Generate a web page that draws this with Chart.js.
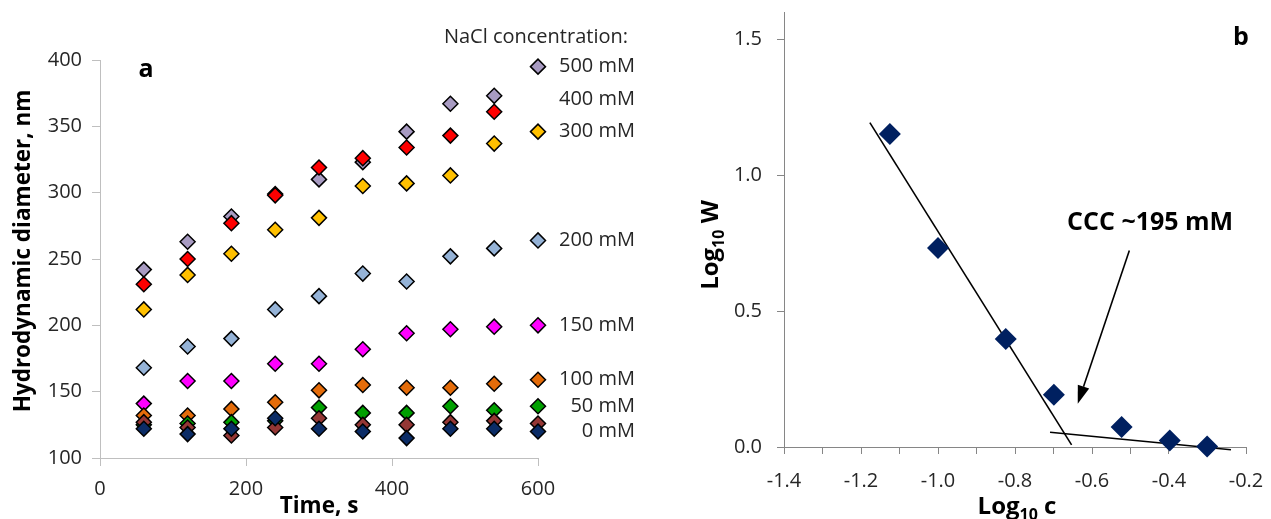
<!DOCTYPE html>
<html>
<head>
    <meta charset="UTF-8">
    <title>NaCl aggregation</title>
    <script src="https://cdn.jsdelivr.net/npm/chart.js"></script>
    <style>
        body {
            margin: 0;
            background: #fff;
        }

        #wrap {
            position: relative;
            width: 1271px;
            height: 519px;
        }

        .panel {
            position: absolute;
            top: 0;
            height: 519px;
        }
    </style>
</head>
<body>
<div id="wrap">
    <div class="panel" style="left: 0; width: 660px;"><canvas id="chart-a"></canvas></div>
    <div class="panel" style="left: 660px; width: 611px;"><canvas id="chart-b"></canvas></div>
</div>

<script>
    // panel a: hydrodynamic diameter (nm) vs time (s)
    const timeA = [60, 120, 180, 240, 300, 360, 420, 480, 540, 600];
    const nacl500 = [242, 263, 282, 299, 310, 323, 346, 367, 373, 395];
    const nacl400 = [231, 250, 277, 298, 319, 326, 334, 343, 361, null];
    const nacl300 = [212, 238, 254, 272, 281, 305, 307, 313, 337, 346];
    const nacl200 = [168, 184, 190, 212, 222, 239, 233, 252, 258, 264];
    const nacl150 = [141, 158, 158, 171, 171, 182, 194, 197, 199, 200];
    const nacl100 = [132, 132, 137, 142, 151, 155, 153, 153, 156, 159];
    const nacl50 = [125, 126, 127, 128, 138, 134, 134, 139, 136, 139];
    const naclUnlabelled = [127, 123, 117, 123, 130, 125, 125, 127, 128, 126];
    const nacl0 = [122, 118, 122, 130, 122, 120, 115, 122, 122, 120];
    const ticksTime = [0, 200, 400, 600];
    const ticksDiameter = [100, 150, 200, 250, 300, 350, 400];

    // panel b: log10 W vs log10 c
    const logC = [-1.125, -1.0, -0.824, -0.699, -0.523, -0.398, -0.301];
    const logW = [1.151, 0.732, 0.397, 0.192, 0.074, 0.024, 0.002];
    const steepFitX = [-1.177, -0.653];
    const steepFitY = [1.193, 0.008];
    const flatFitX = [-0.709, -0.239];
    const flatFitY = [0.054, -0.010];
    const arrowFrom = [-0.503, 0.723];
    const arrowTo = [-0.637, 0.159];
    const cccText = "CCC ~195 mM";
    const cccAt = [-0.449, 0.824];

    const seriesA = [
        {name: "500 mM", values: nacl500, color: "#a89bc2"},
        {name: "400 mM", values: nacl400, color: "#ff0000"},
        {name: "300 mM", values: nacl300, color: "#ffc000"},
        {name: "200 mM", values: nacl200, color: "#95b3d7"},
        {name: "150 mM", values: nacl150, color: "#ff00ff"},
        {name: "100 mM", values: nacl100, color: "#e46c0a"},
        {name: "50 mM", values: nacl50, color: "#00a000"},
        {name: "", values: naclUnlabelled, color: "#953735"},
        {name: "0 mM", values: nacl0, color: "#0b2c66"}
    ];

    Chart.defaults.font.family = "'Open Sans', sans-serif";
    Chart.defaults.color = "#262626";

    const FONT = "'Open Sans', sans-serif";

    function lastValue(i) {
        const v = seriesA[i].values;
        return v[v.length - 1];
    }

    // keep the plot area exactly where the layout padding puts it
    function noPad(s) {
        s.paddingTop = 0;
        s.paddingBottom = 0;
        s.paddingLeft = 0;
        s.paddingRight = 0;
    }

    // ---------- panel a ----------
    const datasetsA = seriesA.map((s, i) => ({
        label: s.name || "unlabelled",
        data: s.values.map((v, j) => ({x: timeA[j], y: v})).filter(p => p.y !== null),
        pointStyle: "rectRot",
        pointRadius: 7.5,
        pointBackgroundColor: s.color,
        pointBorderColor: "#000",
        pointBorderWidth: 1.5,
        showLine: false,
        clip: false,
        order: seriesA.length - i
    }));

    const annotA = {
        id: "annotA",
        afterDraw(chart) {
            const ctx = chart.ctx;
            const area = chart.chartArea;
            const ys = chart.scales.y;
            ctx.save();
            ctx.fillStyle = "#000";

            // titles
            ctx.font = "bold 22.5px " + FONT;
            ctx.textAlign = "center";
            ctx.textBaseline = "middle";
            ctx.fillText("Time, s", (area.left + area.right) / 2, 507);
            ctx.save();
            ctx.translate(24, 251);
            ctx.rotate(-Math.PI / 2);
            ctx.fillText("Hydrodynamic diameter, nm", 0, 0);
            ctx.restore();

            ctx.font = "bold 25px " + FONT;
            ctx.fillText("a", area.left + 46, 70);

            // series labels next to the last points
            ctx.fillStyle = "#262626";
            ctx.font = "20px " + FONT;
            ctx.textAlign = "right";
            ctx.fillText("NaCl concentration:", area.right + 90, 37);
            seriesA.forEach((s, i) => {
                if (!s.name) return;
                let v = lastValue(i);
                if (v === null) v = (lastValue(i - 1) + lastValue(i + 1)) / 2;
                ctx.fillText(s.name, area.right + 97, ys.getPixelForValue(v));
            });
            ctx.restore();
        }
    };

    new Chart(document.getElementById("chart-a"), {
        type: "scatter",
        data: {datasets: datasetsA},
        options: {
            responsive: true,
            maintainAspectRatio: false,
            animation: false,
            layout: {padding: {top: 60, right: 122, left: 0, bottom: 0}},
            plugins: {legend: {display: false}, tooltip: {enabled: false}},
            scales: {
                x: {
                    type: "linear",
                    min: 0,
                    max: 600,
                    afterBuildTicks: s => { s.ticks = ticksTime.map(v => ({value: v})); },
                    afterFit: s => { s.height = 61; noPad(s); },
                    grid: {drawOnChartArea: false, tickLength: 8, color: "#bfbfbf"},
                    border: {color: "#bfbfbf"},
                    ticks: {font: {size: 20}, padding: 11, maxRotation: 0}
                },
                y: {
                    min: 100,
                    max: 400,
                    afterBuildTicks: s => { s.ticks = ticksDiameter.map(v => ({value: v})); },
                    afterFit: s => { s.width = 100; noPad(s); },
                    grid: {drawOnChartArea: false, tickLength: 8, color: "#bfbfbf"},
                    border: {color: "#bfbfbf"},
                    ticks: {font: {size: 20}, padding: 10}
                }
            }
        },
        plugins: [annotA]
    });

    // ---------- panel b ----------
    function drawSubTitle(ctx, parts) {
        // parts: [text, isSub]
        const big = "bold 24px " + FONT, small = "bold 16px " + FONT;
        let width = 0;
        parts.forEach(p => {
            ctx.font = p[1] ? small : big;
            width += ctx.measureText(p[0]).width;
        });
        let x = -width / 2;
        parts.forEach(p => {
            ctx.font = p[1] ? small : big;
            ctx.fillText(p[0], x, p[1] ? 6 : 0);
            x += ctx.measureText(p[0]).width;
        });
    }

    const annotB = {
        id: "annotB",
        afterDraw(chart) {
            const ctx = chart.ctx;
            const xs = chart.scales.x;
            const ys = chart.scales.y;
            const area = chart.chartArea;
            ctx.save();
            ctx.fillStyle = "#000";
            ctx.strokeStyle = "#000";
            ctx.textAlign = "left";
            ctx.textBaseline = "alphabetic";

            // y title
            ctx.save();
            ctx.translate(58, 245);
            ctx.rotate(-Math.PI / 2);
            drawSubTitle(ctx, [["Log", false], ["10", true], [" W", false]]);
            ctx.restore();

            // x title
            ctx.save();
            ctx.translate((area.left + area.right) / 2 + 2, 514);
            drawSubTitle(ctx, [["Log", false], ["10", true], [" c", false]]);
            ctx.restore();

            ctx.font = "bold 25px " + FONT;
            ctx.textAlign = "center";
            ctx.textBaseline = "middle";
            ctx.fillText("b", area.right - 5, 38);

            ctx.font = "bold 25px " + FONT;
            ctx.fillText(cccText, xs.getPixelForValue(cccAt[0]), ys.getPixelForValue(cccAt[1]));

            // arrow
            const x1 = xs.getPixelForValue(arrowFrom[0]), y1 = ys.getPixelForValue(arrowFrom[1]);
            const x2 = xs.getPixelForValue(arrowTo[0]), y2 = ys.getPixelForValue(arrowTo[1]);
            const ang = Math.atan2(y2 - y1, x2 - x1);
            const headLen = 18, headW = 6;
            const bx = x2 - headLen * Math.cos(ang), by = y2 - headLen * Math.sin(ang);
            ctx.lineWidth = 1.6;
            ctx.beginPath();
            ctx.moveTo(x1, y1);
            ctx.lineTo(bx, by);
            ctx.stroke();
            ctx.beginPath();
            ctx.moveTo(x2, y2);
            ctx.lineTo(bx + headW * Math.sin(ang), by - headW * Math.cos(ang));
            ctx.lineTo(bx - headW * Math.sin(ang), by + headW * Math.cos(ang));
            ctx.closePath();
            ctx.fill();
            ctx.restore();
        }
    };

    new Chart(document.getElementById("chart-b"), {
        type: "scatter",
        data: {
            datasets: [
                {
                    label: "Log W",
                    data: logC.map((c, i) => ({x: c, y: logW[i]})),
                    pointStyle: "rectRot",
                    pointRadius: 11,
                    pointBackgroundColor: "#002060",
                    pointBorderWidth: 0,
                    showLine: false,
                    clip: false
                },
                {
                    label: "steep fit",
                    data: steepFitX.map((x, i) => ({x: x, y: steepFitY[i]})),
                    showLine: true,
                    borderColor: "#000",
                    borderWidth: 1.6,
                    pointRadius: 0,
                    clip: false
                },
                {
                    label: "flat fit",
                    data: flatFitX.map((x, i) => ({x: x, y: flatFitY[i]})),
                    showLine: true,
                    borderColor: "#000",
                    borderWidth: 1.6,
                    pointRadius: 0,
                    clip: false
                }
            ]
        },
        options: {
            responsive: true,
            maintainAspectRatio: false,
            animation: false,
            layout: {padding: {top: 12, right: 25, left: 0, bottom: 0}},
            plugins: {legend: {display: false}, tooltip: {enabled: false}},
            scales: {
                x: {
                    type: "linear",
                    min: -1.4,
                    max: -0.2,
                    afterFit: s => { s.height = 72; noPad(s); },
                    grid: {drawOnChartArea: false, tickLength: 7, color: "#868686"},
                    border: {color: "#868686"},
                    ticks: {
                        stepSize: 0.1,
                        font: {size: 20},
                        padding: 15,
                        maxRotation: 0,
                        autoSkip: false,
                        callback: v => Math.round(v * 10) % 2 === 0 ? v.toFixed(1) : ""
                    }
                },
                y: {
                    min: 0,
                    max: 1.6,
                    afterFit: s => { s.width = 124; noPad(s); },
                    grid: {drawOnChartArea: false, tickLength: 7, color: "#868686"},
                    border: {color: "#868686"},
                    ticks: {
                        stepSize: 0.5,
                        includeBounds: false,
                        font: {size: 20},
                        padding: 15,
                        callback: v => Math.abs(v * 2 - Math.round(v * 2)) < 1e-6 ? v.toFixed(1) : ""
                    }
                }
            }
        },
        plugins: [annotB]
    });
</script>
</body>
</html>
